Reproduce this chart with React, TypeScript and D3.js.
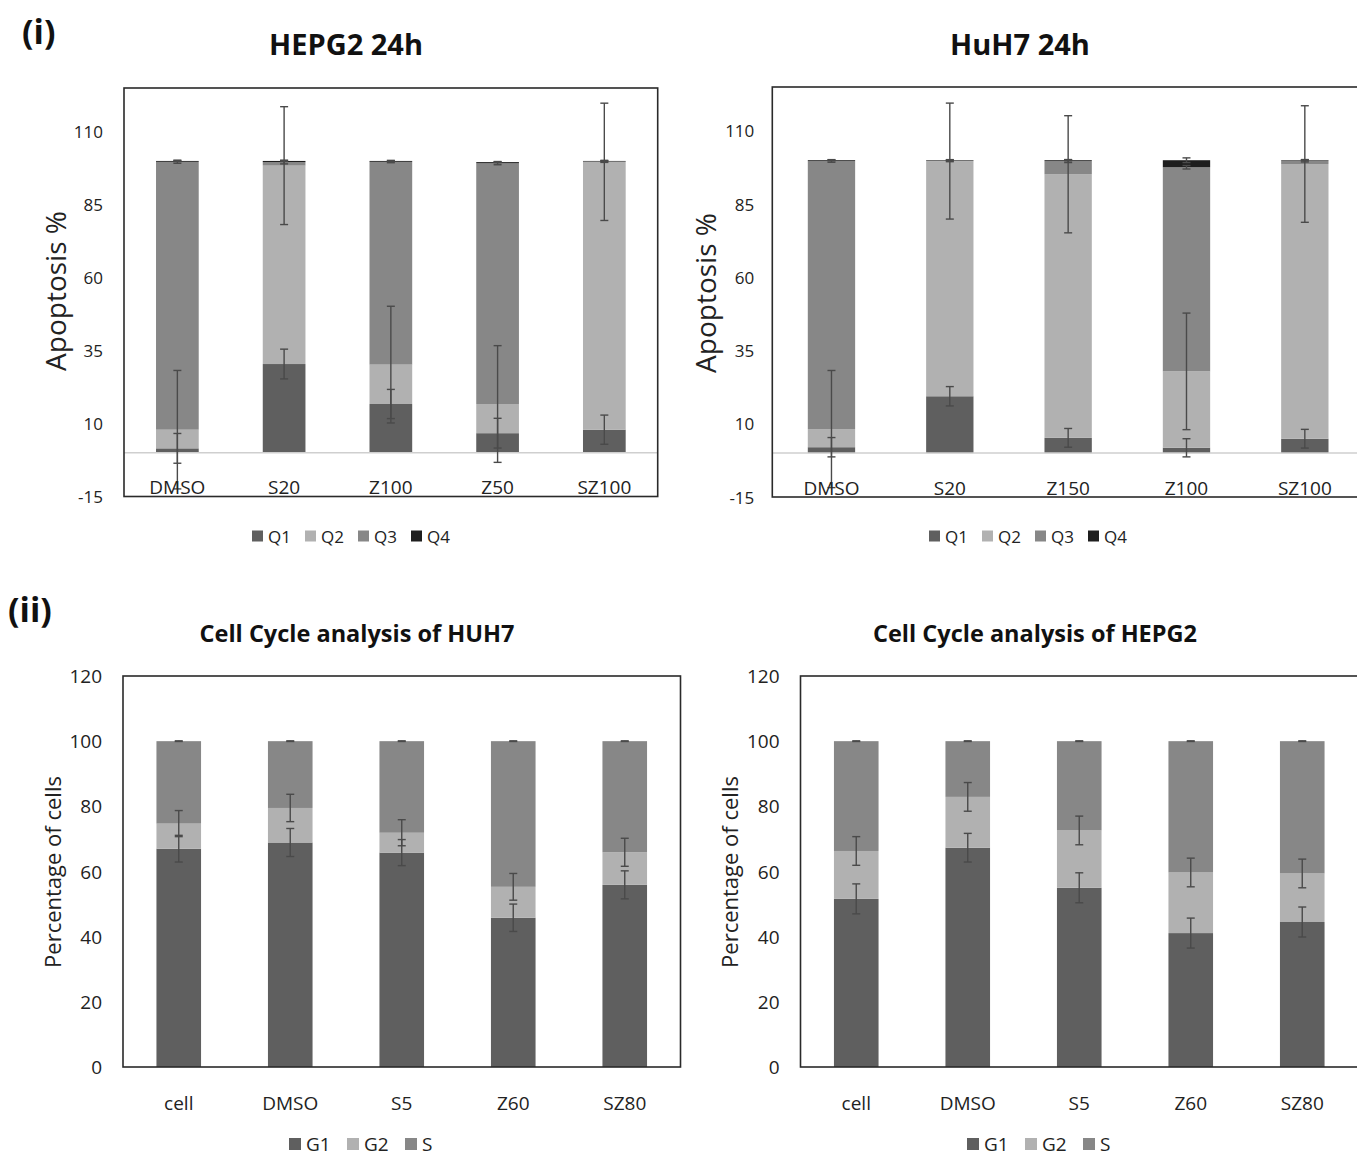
import React from 'react';
import * as d3 from 'd3';

// ---------- data ----------
const apoSeries = ['Q1', 'Q2', 'Q3', 'Q4'];
const apoTicks = [-15, 10, 35, 60, 85, 110];

const hepg2ApoCats = ['DMSO', 'S20', 'Z100', 'Z50', 'SZ100'];
const hepg2Q1 = [1.5, 30.4, 16.7, 6.7, 7.9];
const hepg2Q2 = [6.4, 68.0, 13.5, 10.0, 91.8];
const hepg2Q3 = [91.8, 1.2, 69.5, 82.5, 0.1];
const hepg2Q4 = [0.3, 0.4, 0.3, 0.4, 0.2];
const hepg2Q1Err = [5.1, 5.1, 5.0, 5.1, 5.0];
const hepg2Q2Err = [20.3, 20.2, 20.0, 20.0, 20.1];
const hepg2Q3Err = [0.5, 0.6, 0.3, 0.5, 0.3];
const hepg2Q4Err = [0.2, 0.2, 0.2, 0.2, 0.2];

const huh7ApoCats = ['DMSO', 'S20', 'Z150', 'Z100', 'SZ100'];
const huh7Q1 = [2.0, 19.4, 5.2, 1.8, 4.9];
const huh7Q2 = [6.2, 80.3, 90.0, 26.1, 93.8];
const huh7Q3 = [91.5, 0.1, 4.5, 69.7, 1.1];
const huh7Q4 = [0.3, 0.2, 0.3, 2.4, 0.2];
const huh7Q1Err = [3.3, 3.3, 3.2, 3.1, 3.2];
const huh7Q2Err = [20.0, 19.8, 20.0, 19.9, 19.9];
const huh7Q3Err = [0.4, 0.3, 0.5, 0.6, 0.4];
const huh7Q4Err = [0.2, 0.2, 0.2, 0.8, 0.2];

const cycleSeries = ['G1', 'G2', 'S'];
const cycleTicks = [0, 20, 40, 60, 80, 100, 120];
const cycleCats = ['cell', 'DMSO', 'S5', 'Z60', 'SZ80'];

const huh7G1 = [67.0, 68.9, 65.8, 45.8, 55.9];
const huh7G2 = [7.7, 10.6, 6.1, 9.5, 10.0];
const huh7S = [25.3, 20.5, 28.1, 44.7, 34.1];
const huh7G1Err = [4.1, 4.3, 4.0, 4.2, 4.3];
const huh7G2Err = [4.0, 4.2, 4.0, 4.1, 4.3];
const huh7SErr = [0.1, 0.1, 0.1, 0.1, 0.1];

const hepg2G1 = [51.6, 67.3, 55.0, 41.1, 44.5];
const hepg2G2 = [14.7, 15.6, 17.6, 18.6, 14.9];
const hepg2S = [33.7, 17.1, 27.4, 40.3, 40.6];
const hepg2G1Err = [4.6, 4.4, 4.6, 4.6, 4.6];
const hepg2G2Err = [4.4, 4.4, 4.4, 4.4, 4.4];
const hepg2SErr = [0.1, 0.1, 0.1, 0.1, 0.1];

const apoColors = ['#5f5f5f', '#b1b1b1', '#878787', '#1e1e1e'];
const cycleColors = ['#5f5f5f', '#b1b1b1', '#878787'];

const FONT = "'Open Sans', sans-serif";

type PanelProps = {
  x0: number; x1: number; y0: number; y1: number;
  domain: [number, number];
  ticks: number[];
  cats: string[];
  series: string[];
  values: number[][];
  errors: number[][];
  colors: string[];
  tickSize: number;
  tickGap: number;
  catSize: number;
  catY: number;
  zeroLine: boolean;
  yLabel: string;
  yLabelX: number;
  yLabelY: number;
  yLabelSize: number;
  legendX: number;
  legendY: number;
  legendStep: number;
  legendSize: number;
  sq: number;
};

function Panel(p: PanelProps) {
  const x = d3.scaleBand<string>().domain(p.cats).range([p.x0, p.x1]).paddingInner(0.6).paddingOuter(0.3);
  const y = d3.scaleLinear().domain(p.domain).range([p.y1, p.y0]);
  const rows = p.cats.map((c, i) => {
    const r: any = { cat: c };
    p.series.forEach((s, si) => { r[s] = p.values[si][i]; });
    return r;
  });
  const stacked = d3.stack<any>().keys(p.series)(rows);
  const bw = x.bandwidth();
  return (
    <g>
      {stacked.map((layer, si) => (
        <g key={'l' + si} fill={p.colors[si]}>
          {layer.map((d, i) => (
            <rect key={i} x={x(p.cats[i])} y={y(d[1])} width={bw} height={Math.max(0, y(d[0]) - y(d[1]))} />
          ))}
        </g>
      ))}
      {p.zeroLine && (
        <line x1={p.x0} x2={p.x1} y1={y(0)} y2={y(0)} stroke="#cfcfcf" strokeWidth={1.6} />
      )}
      {stacked.map((layer, si) => (
        <g key={'e' + si} stroke="#4a4a4a" strokeWidth={1.4}>
          {layer.map((d, i) => {
            const cx = (x(p.cats[i]) as number) + bw / 2;
            const e = p.errors[si][i];
            const ya = y(d[1] + e);
            const yb = y(d[1] - e);
            return (
              <g key={i}>
                <line x1={cx} x2={cx} y1={ya} y2={yb} />
                <line x1={cx - 4} x2={cx + 4} y1={ya} y2={ya} />
                <line x1={cx - 4} x2={cx + 4} y1={yb} y2={yb} />
              </g>
            );
          })}
        </g>
      ))}
      <rect x={p.x0} y={p.y0} width={p.x1 - p.x0} height={p.y1 - p.y0} fill="none" stroke="#2a2a2a" strokeWidth={1.6} />
      {p.ticks.map((t) => (
        <text key={'t' + t} x={p.x0 - p.tickGap} y={y(t)} textAnchor="end" dominantBaseline="central"
          fontFamily={FONT} fontSize={p.tickSize} fill="#222">{t}</text>
      ))}
      {p.cats.map((c) => (
        <text key={'c' + c} x={(x(c) as number) + bw / 2} y={p.catY} textAnchor="middle"
          fontFamily={FONT} fontSize={p.catSize} fill="#222">{c}</text>
      ))}
      <text transform={`translate(${p.yLabelX},${p.yLabelY}) rotate(-90)`} textAnchor="middle"
        dominantBaseline="central" fontFamily={FONT} fontSize={p.yLabelSize} fill="#222">{p.yLabel}</text>
      {p.series.map((s, si) => (
        <g key={'lg' + s} transform={`translate(${p.legendX + si * p.legendStep},${p.legendY})`}>
          <rect x={0} y={-p.sq / 2} width={p.sq} height={p.sq} fill={p.colors[si]} />
          <text x={p.sq + 5} y={0} dominantBaseline="central" fontFamily={FONT} fontSize={p.legendSize} fill="#222">{s}</text>
        </g>
      ))}
    </g>
  );
}

export default function App() {
  return (
    <svg width={1357} height={1157} style={{ position: 'absolute', left: 0, top: 0, background: '#fff' }}>
      <rect x={0} y={0} width={1357} height={1157} fill="#fff" />
      <text x={22} y={44} fontFamily={FONT} fontWeight="bold" fontSize={34} fill="#111">(i)</text>
      <text x={8} y={622} fontFamily={FONT} fontWeight="bold" fontSize={34} fill="#111">(ii)</text>

      <text x={346} y={55} textAnchor="middle" fontFamily={FONT} fontWeight="bold" fontSize={29} fill="#111">HEPG2 24h</text>
      <text x={1020} y={55} textAnchor="middle" fontFamily={FONT} fontWeight="bold" fontSize={29} fill="#111">HuH7 24h</text>
      <text x={357} y={642} textAnchor="middle" fontFamily={FONT} fontWeight="bold" fontSize={23.5} fill="#111">Cell Cycle analysis of HUH7</text>
      <text x={1035} y={642} textAnchor="middle" fontFamily={FONT} fontWeight="bold" fontSize={23.5} fill="#111">Cell Cycle analysis of HEPG2</text>

      <Panel x0={124} x1={657.7} y0={88} y1={496.5} domain={[-15, 125]} ticks={apoTicks}
        cats={hepg2ApoCats} series={apoSeries}
        values={[hepg2Q1, hepg2Q2, hepg2Q3, hepg2Q4]}
        errors={[hepg2Q1Err, hepg2Q2Err, hepg2Q3Err, hepg2Q4Err]}
        colors={apoColors} tickSize={17} tickGap={21} catSize={19} catY={494} zeroLine={true}
        yLabel="Apoptosis %" yLabelX={55} yLabelY={291} yLabelSize={28}
        legendX={252} legendY={536} legendStep={53} legendSize={17} sq={11} />

      <Panel x0={772.3} x1={1364} y0={87} y1={497} domain={[-15, 125]} ticks={apoTicks}
        cats={huh7ApoCats} series={apoSeries}
        values={[huh7Q1, huh7Q2, huh7Q3, huh7Q4]}
        errors={[huh7Q1Err, huh7Q2Err, huh7Q3Err, huh7Q4Err]}
        colors={apoColors} tickSize={17} tickGap={18} catSize={19} catY={495} zeroLine={true}
        yLabel="Apoptosis %" yLabelX={705} yLabelY={293} yLabelSize={28}
        legendX={929} legendY={536} legendStep={53} legendSize={17} sq={11} />

      <Panel x0={123} x1={680.5} y0={676} y1={1067} domain={[0, 120]} ticks={cycleTicks}
        cats={cycleCats} series={cycleSeries}
        values={[huh7G1, huh7G2, huh7S]}
        errors={[huh7G1Err, huh7G2Err, huh7SErr]}
        colors={cycleColors} tickSize={19} tickGap={21} catSize={19} catY={1110} zeroLine={false}
        yLabel="Percentage of cells" yLabelX={52} yLabelY={872} yLabelSize={22}
        legendX={289} legendY={1144} legendStep={58} legendSize={19} sq={12} />

      <Panel x0={800.5} x1={1358} y0={676} y1={1067} domain={[0, 120]} ticks={cycleTicks}
        cats={cycleCats} series={cycleSeries}
        values={[hepg2G1, hepg2G2, hepg2S]}
        errors={[hepg2G1Err, hepg2G2Err, hepg2SErr]}
        colors={cycleColors} tickSize={19} tickGap={21} catSize={19} catY={1110} zeroLine={false}
        yLabel="Percentage of cells" yLabelX={729} yLabelY={872} yLabelSize={22}
        legendX={967} legendY={1144} legendStep={58} legendSize={19} sq={12} />
    </svg>
  );
}
